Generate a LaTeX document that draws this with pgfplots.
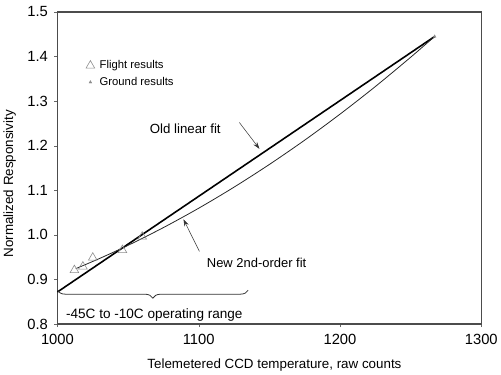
\documentclass[border=0pt]{standalone}
\usepackage{fontspec}
\setmainfont{Liberation Sans}
\usepackage{pgfplots}
\pgfplotsset{compat=1.18}
\usetikzlibrary{decorations.pathreplacing,arrows.meta}
\begin{document}
\begin{tikzpicture}
\begin{axis}[
  scale only axis,
  width=425pt, height=313pt,
  xmin=1000, xmax=1300, ymin=0.8, ymax=1.5,
  xtick={1000,1100,1200,1300},
  ytick={0.8,0.9,1.0,1.1,1.2,1.3,1.4,1.5},
  yticklabel style={/pgf/number format/fixed,/pgf/number format/fixed zerofill,/pgf/number format/precision=1, xshift=-3pt},
  xticklabel style={/pgf/number format/set thousands separator={}, yshift=-4pt},
  /pgf/number format/assume math mode=true,
  tick label style={font=\fontsize{14.8}{16}\selectfont},
  tick align=outside, major tick length=3pt,
  xtick pos=bottom, ytick pos=left,
  axis line style={draw=black!70, line width=1.2pt},
  tick style={black!60},
  xlabel={Telemetered CCD temperature, raw counts},
  ylabel={Normalized Responsivity},
  label style={font=\fontsize{13.4}{15}\selectfont},
  xlabel style={at={(axis description cs:0.512,-0.13)}, anchor=center},
  ylabel style={at={(axis description cs:-0.113,0.45)}, anchor=center},
  legend style={draw=none, fill=none, at={(axis cs:1018,1.40)}, anchor=north west, font=\fontsize{11.3}{13}\selectfont, row sep=3pt, nodes={inner xsep=5pt}},
  legend cell align=left,
  clip=false,
]
\addplot[only marks, mark=triangle, mark size=5pt, draw=black!45, line width=0.6pt] coordinates {
 (1012,0.921) (1018,0.929) (1025,0.949) (1046,0.966) (1060,0.996)
};
\addlegendentry{Flight results}
\addplot[only marks, mark=triangle*, mark size=1.6pt, draw=black!45, fill=black!45] coordinates {
 (1267,1.445)
};
\addlegendentry{Ground results}
% old linear fit
\addplot[black, line width=1.6pt, forget plot] coordinates {
 (1000,0.872) (1267,1.445)
};
% new 2nd-order fit
\addplot[black!85, line width=0.8pt, smooth, forget plot] coordinates {
 (1013,0.9244) (1030,0.9474) (1050,0.9766) (1075,1.0164) (1100,1.0599)
 (1125,1.1071) (1150,1.1580) (1175,1.2125) (1200,1.2708) (1225,1.3327)
 (1250,1.3984) (1267,1.4451)
};
\node[font=\fontsize{13.3}{15}\selectfont] at (axis cs:1090.5,1.2385) {Old linear fit};
\draw[-{Stealth[length=7pt,width=4.5pt]}, black!80, line width=0.5pt] (axis cs:1128.8,1.252) -- (axis cs:1143,1.193);
\node[font=\fontsize{13}{15}\selectfont] at (axis cs:1141,0.9365) {New 2nd-order fit};
\draw[-{Stealth[length=7pt,width=4.5pt]}, black!80, line width=0.5pt] (axis cs:1100.5,0.963) -- (axis cs:1089.2,1.035);
\draw[decorate, decoration={brace, mirror, amplitude=8pt}, black!80, line width=0.8pt] (axis cs:1000,0.876) -- (axis cs:1135,0.876);
\node[font=\fontsize{13.6}{15}\selectfont] at (axis cs:1068.6,0.8208) {-45C to -10C operating range};
\end{axis}
\path ([yshift=12pt]current axis.north);
\end{tikzpicture}
\end{document}
